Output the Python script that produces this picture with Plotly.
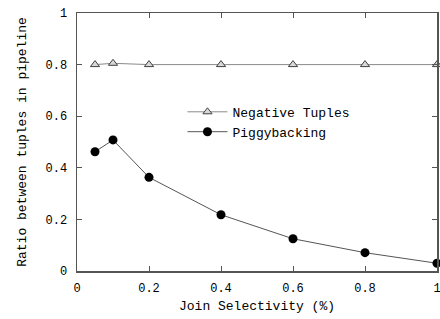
import plotly.graph_objects as go

x_sel = [0.05, 0.1, 0.2, 0.4, 0.6, 0.8, 1.0]
neg_tuples = [0.80, 0.805, 0.80, 0.80, 0.80, 0.80, 0.80]
piggy = [0.462, 0.508, 0.363, 0.218, 0.125, 0.071, 0.030]
x_ticks = [0, 0.2, 0.4, 0.6, 0.8, 1]
x_tick_labels = ["0", "0.2", "0.4", "0.6", "0.8", "1"]
y_ticks = [0, 0.2, 0.4, 0.6, 0.8, 1]
y_tick_labels = ["0", "0.2", "0.4", "0.6", "0.8", "1"]

FONT = "Liberation Mono, Courier New, monospace"

fig = go.Figure()
fig.add_trace(go.Scatter(
    x=x_sel, y=neg_tuples, mode="lines+markers", name="Negative Tuples",
    line=dict(color="#8a8a8a", width=1), cliponaxis=False,
    marker=dict(symbol="triangle-up", size=8, color="#d8d8d8",
                line=dict(color="#404040", width=1)),
))
fig.add_trace(go.Scatter(
    x=x_sel, y=piggy, mode="lines+markers", name="Piggybacking",
    line=dict(color="#555555", width=1), cliponaxis=False,
    marker=dict(symbol="circle", size=9, color="black",
                line=dict(color="black", width=0)),
))

axis_common = dict(
    showgrid=False, zeroline=False, showline=True, mirror="ticks",
    linecolor="#555555", linewidth=1.5, ticks="inside", ticklen=5,
    tickcolor="#555555", tickfont=dict(family=FONT, size=12, color="black"),
    automargin=False, ticklabeloverflow="allow",
)
fig.update_xaxes(range=[0, 1], tickvals=x_ticks, ticktext=x_tick_labels,
                 ticklabelstandoff=5,
                 title=dict(text="Join Selectivity (%)", font=dict(family=FONT, size=13, color="black"),
                            standoff=6),
                 **axis_common)
fig.update_yaxes(range=[0, 1], tickvals=y_ticks, ticktext=y_tick_labels,
                 ticklabelstandoff=6,
                 title=dict(text="Ratio between tuples in pipeline",
                            font=dict(family=FONT, size=13, color="black"), standoff=16),
                 **axis_common)
fig.update_layout(
    width=440, height=319,
    margin=dict(l=77, r=3, t=13, b=48, autoexpand=False),
    plot_bgcolor="white", paper_bgcolor="white",
    font=dict(family=FONT, size=13, color="black"),
    legend=dict(x=0.293, y=0.675, xanchor="left", yanchor="top",
                bgcolor="rgba(0,0,0,0)", font=dict(family=FONT, size=13),
                itemwidth=40, tracegroupgap=0),
)
fig.write_html("out.html",
               config={"displayModeBar": False, "staticPlot": True},
               post_script="document.body.style.margin='0';document.body.style.overflow='hidden';")
